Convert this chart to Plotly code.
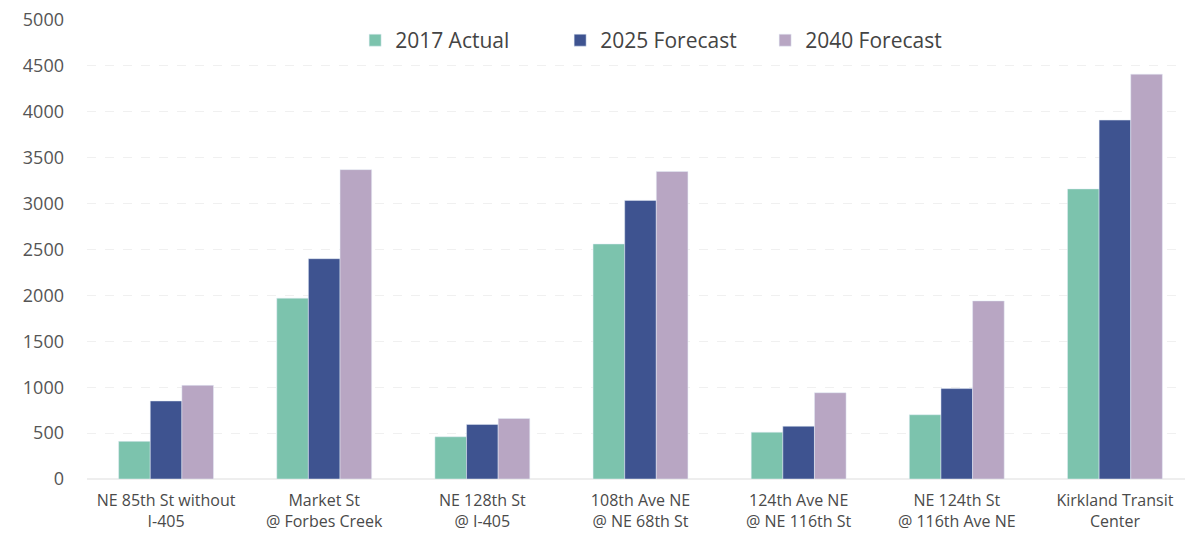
import plotly.graph_objects as go

categories = [
    "NE 85th St without<br>I-405",
    "Market St<br>@ Forbes Creek",
    "NE 128th St<br>@ I-405",
    "108th Ave NE<br>@ NE 68th St",
    "124th Ave NE<br>@ NE 116th St",
    "NE 124th St<br>@ 116th Ave NE",
    "Kirkland Transit<br>Center",
]
actual_2017 = [410, 1970, 460, 2560, 510, 700, 3160]
forecast_2025 = [850, 2400, 595, 3035, 575, 985, 3910]
forecast_2040 = [1020, 3370, 660, 3350, 940, 1940, 4410]
y_ticks = [0, 500, 1000, 1500, 2000, 2500, 3000, 3500, 4000, 4500, 5000]

fig = go.Figure()
fig.add_trace(go.Bar(name="2017 Actual", x=categories, y=actual_2017, marker_color="#7cc3ad"))
fig.add_trace(go.Bar(name="2025 Forecast", x=categories, y=forecast_2025, marker_color="#3e5390"))
fig.add_trace(go.Bar(name="2040 Forecast", x=categories, y=forecast_2040, marker_color="#b8a6c3"))

fig.update_layout(
    width=1193, height=538,
    margin=dict(l=79, r=7, t=12, b=67, autoexpand=False),
    paper_bgcolor="white", plot_bgcolor="white",
    barmode="group", bargap=0.4, bargroupgap=0,
    font=dict(family="Open Sans", color="#555555"),
    legend=dict(
        orientation="h", x=0.52, xanchor="center", y=1.0, yanchor="top",
        font=dict(size=21, color="#444444"),
        entrywidth=160, entrywidthmode="pixels",
        bgcolor="rgba(0,0,0,0)",
    ),
    xaxis=dict(
        range=[-0.5, 6.5], showgrid=False, showline=False, ticks="",
        tickfont=dict(size=16, color="#4a4a4a"), ticklabelstandoff=10,
        automargin=False,
    ),
    yaxis=dict(
        range=[0, 5000], tickvals=y_ticks, showline=False,
        gridcolor="#f0f0f0", griddash="dash", zeroline=True, zerolinecolor="#eeeeee",
        tickfont=dict(size=18, color="#555555"), ticklabelstandoff=22,
        ticklabeloverflow="allow", automargin=False,
    ),
)

fig.write_html("out.html")
